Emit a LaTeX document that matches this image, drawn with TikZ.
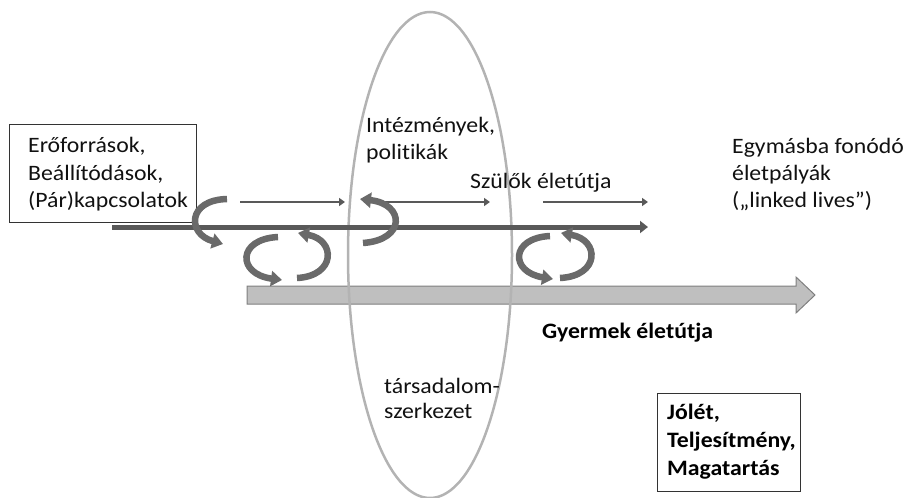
\documentclass[tikz,border=0pt]{standalone}
\usepackage{fontspec}
\setmainfont{Carlito}[FakeStretch=1.08,RawFeature=-liga]
\usetikzlibrary{arrows.meta,shapes.geometric}
\definecolor{dk}{HTML}{595959}
\definecolor{cyc}{HTML}{6A6A6A}
\definecolor{childfill}{HTML}{BFBFBF}
\definecolor{childline}{HTML}{7F7F7F}
\definecolor{ell}{HTML}{B3B3B3}
\definecolor{txt}{HTML}{111111}
\definecolor{boxline}{HTML}{333333}
\begin{document}
\begin{tikzpicture}[x=1pt,y=-1pt,
  lbl/.style={anchor=base west, inner sep=0pt, font=\fontsize{22}{27}\selectfont, text=txt},
  blbl/.style={anchor=base west, inner sep=0pt, font=\fontsize{22}{27}\selectfont\bfseries, text=black},
  thinarrow/.style={draw=dk, line width=2.2pt, -{Triangle[length=6pt,width=8pt]}},
  parentarrow/.style={draw=dk, line width=5pt, -{Triangle[length=8pt,width=12pt]}},
  cycarrow/.style={draw=cyc, line width=6.5pt, -{Triangle[length=11pt,width=15pt]}},
  framebox/.style={draw=boxline, line width=1.3pt, fill=white, inner sep=0pt, anchor=north west}]
\useasboundingbox (0,0) rectangle (906,498);

% boxes
\node[framebox, minimum width=187pt, minimum height=98pt] (lbox) at (9,124) {};
\node[framebox, minimum width=143pt, minimum height=98pt] (rbox) at (657,393) {};

% child arrow
\draw[fill=childfill, draw=childline, line width=1pt]
  (247,286) -- (796,286) -- (796,277) -- (815,295) -- (796,313) -- (796,304) -- (247,304) -- cycle;

% ellipse (social structure)
\node[draw=ell, line width=2.5pt, ellipse, minimum width=164pt, minimum height=486pt, inner sep=0pt] (soc) at (430,255) {};

% thin parent arrows
\coordinate (t1a) at (240,202); \coordinate (t1b) at (345,202);
\coordinate (t2a) at (372,202); \coordinate (t2b) at (490,202);
\coordinate (t3a) at (543,202); \coordinate (t3b) at (648,202);
\draw[thinarrow] (t1a) -- (t1b);
\draw[thinarrow] (t2a) -- (t2b);
\draw[thinarrow] (t3a) -- (t3b);

% main parent line
\coordinate (pa) at (112,227); \coordinate (pb) at (648,227);
\draw[parentarrow] (pa) -- (pb);

% circular arrows
\coordinate (c1a) at (227,199); \coordinate (c1b) at (223,244);
\draw[cycarrow] (c1a) .. controls (187,200) and (187,234) .. (c1b);

\coordinate (c2a) at (278,237); \coordinate (c2b) at (282,280);
\draw[cycarrow] (c2a) .. controls (237,239) and (237,274) .. (c2b);
\coordinate (c3a) at (297,278); \coordinate (c3b) at (298,233);
\draw[cycarrow] (c3a) .. controls (336,276) and (336,240) .. (c3b);

\coordinate (c4a) at (363,243); \coordinate (c4b) at (360,199);
\draw[cycarrow] (c4a) .. controls (406,240) and (405,204) .. (c4b);

\coordinate (c5a) at (550,236); \coordinate (c5b) at (553,279);
\draw[cycarrow] (c5a) .. controls (510,238) and (510,272) .. (c5b);
\coordinate (c6a) at (560,278); \coordinate (c6b) at (561,233);
\draw[cycarrow] (c6a) .. controls (600,276) and (600,240) .. (c6b);

% texts
\node[lbl] (l1) at (28,152) {Erőforrások,};
\node[lbl] (l2) at (28,180) {Beállítódások,};
\node[lbl] (l3) at (28,207) {(Pár)kapcsolatok};

\node[lbl] (i1) at (366,132) {Intézmények,};
\node[lbl] (i2) at (366,159) {politikák};

\node[lbl] (sz) at (470,188) {Szülők életútja};

\node[lbl] (e1) at (732,153) {Egymásba fonódó};
\node[lbl] (e2) at (732,180) {életpályák};
\node[lbl] (e3) at (732,207) {(„linked lives”)};

\node[blbl] (gy) at (542,338) {Gyermek életútja};

\node[lbl] (ts1) at (384,393) {társadalom-};
\node[lbl] (ts2) at (384,418) {szerkezet};

\node[blbl] (r1) at (667,419) {Jólét,};
\node[blbl] (r2) at (667,447) {Teljesítmény,};
\node[blbl] (r3) at (667,475) {Magatartás};
\end{tikzpicture}
\end{document}
